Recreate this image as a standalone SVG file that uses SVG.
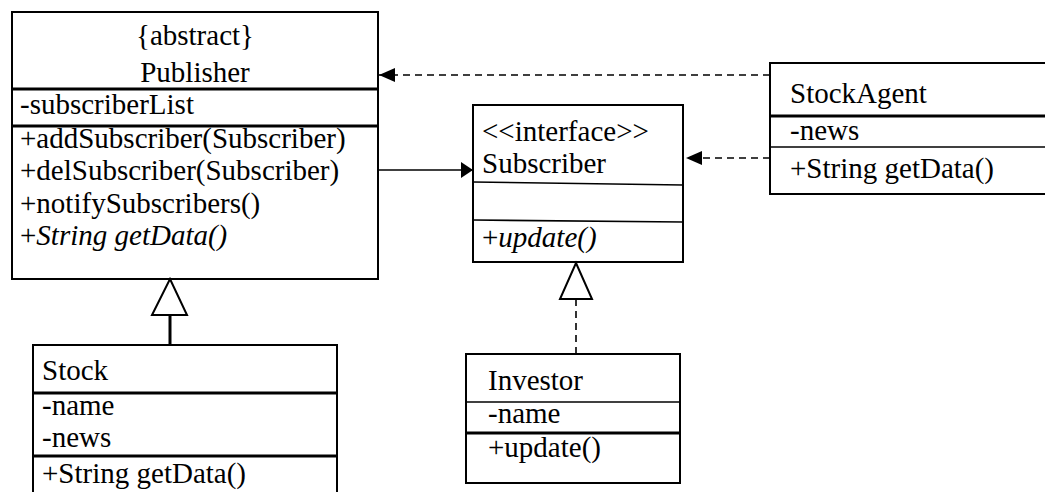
<svg xmlns="http://www.w3.org/2000/svg" width="1045" height="492" viewBox="0 0 1045 492">
<style>
text{font-family:"Liberation Serif","Times New Roman",serif;font-size:29px;fill:#000}
.it{font-style:italic}
.box{fill:#fff;stroke:#000;stroke-width:2}
.thick{stroke:#000;stroke-width:3}
.thin{stroke:#000;stroke-width:1.6}
.conn{stroke:#000;stroke-width:1.6;fill:none}
.dash{stroke-dasharray:7 5}
</style>
<defs>
<marker id="filled" viewBox="0 0 16 14" refX="16" refY="7" markerWidth="16" markerHeight="14" markerUnits="userSpaceOnUse" orient="auto">
<path d="M0,0 L16,7 L0,14 Z" fill="#000"/>
</marker>
<marker id="filledS" viewBox="0 0 12 16" refX="12" refY="8" markerWidth="12" markerHeight="16" markerUnits="userSpaceOnUse" orient="auto">
<path d="M0,0 L12,8 L0,16 Z" fill="#000"/>
</marker>
</defs>
<g id="Publisher">
<rect class="box" x="12" y="12" width="366" height="267"/>
<line class="thick" x1="12" y1="89" x2="378" y2="89"/>
<line class="thick" x1="12" y1="126" x2="378" y2="126"/>
<text x="195" y="45" text-anchor="middle">{abstract}</text>
<text x="195" y="82" text-anchor="middle">Publisher</text>
<text x="20" y="114">-subscriberList</text>
<text x="20" y="148">+addSubscriber(Subscriber)</text>
<text x="20" y="180">+delSubscriber(Subscriber)</text>
<text x="20" y="213">+notifySubscribers()</text>
<text x="20" y="245">+<tspan class="it">String getData()</tspan></text>
</g>
<g id="Subscriber">
<rect class="box" x="473" y="105" width="210" height="157"/>
<line class="thin" x1="473" y1="182" x2="683" y2="185"/>
<line class="thin" x1="473" y1="220" x2="683" y2="222"/>
<text x="482" y="141">&lt;&lt;interface&gt;&gt;</text>
<text x="482" y="173">Subscriber</text>
<text x="482" y="247">+<tspan class="it">update()</tspan></text>
</g>
<g id="StockAgent">
<rect class="box" x="770" y="63" width="290" height="131"/>
<line class="thick" x1="770" y1="116" x2="1060" y2="116"/>
<line class="thin" x1="770" y1="147" x2="1060" y2="147"/>
<text x="790" y="103">StockAgent</text>
<text x="790" y="140">-news</text>
<text x="790" y="178">+String getData()</text>
</g>
<g id="Stock">
<rect class="box" x="33" y="345" width="304" height="160"/>
<line class="thick" x1="33" y1="393" x2="337" y2="393"/>
<line class="thick" x1="33" y1="456" x2="337" y2="456"/>
<text x="42" y="380">Stock</text>
<text x="42" y="415">-name</text>
<text x="42" y="447">-news</text>
<text x="42" y="483">+String getData()</text>
</g>
<g id="Investor">
<rect class="box" x="466" y="354" width="214" height="129"/>
<line class="thin" x1="466" y1="402" x2="680" y2="402"/>
<line class="thick" x1="466" y1="433" x2="680" y2="433"/>
<text x="488" y="390">Investor</text>
<text x="488" y="423">-name</text>
<text x="488" y="457">+update()</text>
</g>
<g id="connectors">
<line class="conn dash" x1="770" y1="75" x2="379" y2="75" marker-end="url(#filled)"/>
<line class="conn dash" x1="770" y1="158" x2="686" y2="158" marker-end="url(#filled)"/>
<line class="conn" x1="378" y1="170" x2="473" y2="170" marker-end="url(#filledS)"/>
<line x1="170" y1="345" x2="170" y2="315" stroke="#000" stroke-width="3"/>
<path d="M170,279 L187,315 L152,315 Z" fill="#fff" stroke="#000" stroke-width="2"/>
<line class="conn dash" x1="576" y1="354" x2="576" y2="299"/>
<path d="M576,263 L592,299 L560,299 Z" fill="#fff" stroke="#000" stroke-width="2"/>
</g>
</svg>
